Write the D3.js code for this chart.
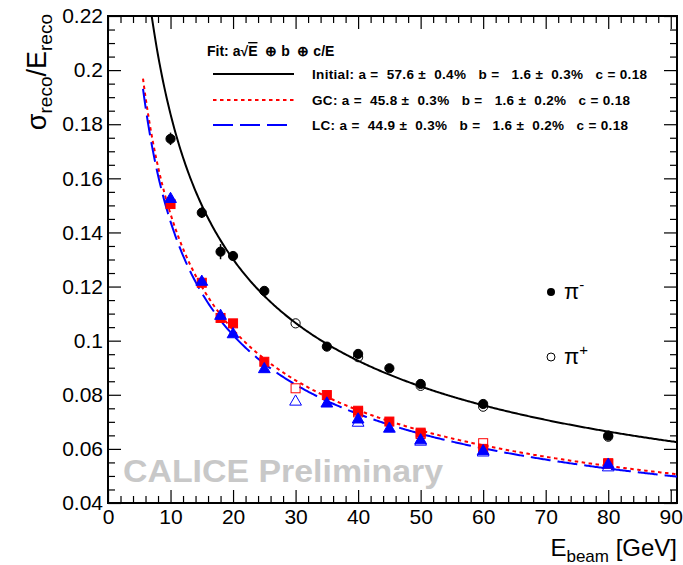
<!DOCTYPE html>
<html>
<head>
<meta charset="utf-8">
<script src="https://cdn.jsdelivr.net/npm/d3@7"></script>
<style>
  body { margin: 0; background: #fff; }
  svg text { font-family: "Liberation Sans", Arial, Helvetica, sans-serif; }
</style>
</head>
<body>
<div id="chart"></div>
<script>
// Data
var energies = [10, 15, 18, 20, 25, 35, 40, 45, 50, 60, 80];
var energiesPlus = [30, 40, 50, 60, 80];

// pi- (filled markers)
var initialMinus = [0.1746, 0.1473, 0.1329, 0.1313, 0.1184, 0.0978, 0.0951, 0.0898, 0.0840, 0.0766, 0.0649];
var initialMinusErr = [0.0023, 0.0020, 0.0028, 0.0008, 0.0006, 0.0005, 0.0005, 0.0005, 0.0005, 0.0005, 0.0005];
var gcMinus = [0.1505, 0.1214, 0.1084, 0.1064, 0.0922, 0.0799, 0.0741, 0.0701, 0.0660, 0.0600, 0.0547];
var lcMinus = [0.1527, 0.1221, 0.1095, 0.1027, 0.0898, 0.0771, 0.0712, 0.0678, 0.0635, 0.0595, 0.0545];
var smallErr = [0.0008, 0.0008, 0.0015, 0.0008, 0.0006, 0.0005, 0.0005, 0.0005, 0.0005, 0.0005, 0.0005];

// pi+ (open markers)
var initialPlus = [0.1064, 0.0939, 0.0833, 0.0756, 0.0645];
var gcPlus = [0.0824, 0.0735, 0.0655, 0.0621, 0.0545];
var lcPlus = [0.0778, 0.0700, 0.0630, 0.0590, 0.0535];

// fit parameters from the legend
var fitNames = ["Initial", "GC", "LC"];
var fitA = [0.576, 0.458, 0.449];
var fitB = [0.016, 0.016, 0.016];
var fitC = [0.18, 0.18, 0.18];
var fitLabels = [
  "Initial: a =  57.6 \u00b1  0.4%   b =   1.6 \u00b1  0.3%   c = 0.18",
  "GC: a =  45.8 \u00b1  0.3%   b =   1.6 \u00b1  0.2%   c = 0.18",
  "LC: a =  44.9 \u00b1  0.3%   b =   1.6 \u00b1  0.2%   c = 0.18"
];
var fitLabelWidths = [335, 318, 316];
var fitColors = ["#000000", "#ff0000", "#0000ff"];
var fitDash = [null, "3.5,3.5", "20,7"];

var xTicks = [0, 10, 20, 30, 40, 50, 60, 70, 80, 90];
var yTicks = [0.04, 0.06, 0.08, 0.1, 0.12, 0.14, 0.16, 0.18, 0.2, 0.22];

// Chart Params
var svgWidth = 683;
var svgHeight = 565;
var margin = { top: 16, right: 6, bottom: 62, left: 108 };
var width = svgWidth - margin.left - margin.right;
var height = svgHeight - margin.top - margin.bottom;

var svg = d3.select("#chart").append("svg")
  .attr("width", svgWidth)
  .attr("height", svgHeight);

var chartGroup = svg.append("g")
  .attr("transform", `translate(${margin.left}, ${margin.top})`);

var x = d3.scaleLinear().domain([0, 91]).range([0, width]);
var y = d3.scaleLinear().domain([0.04, 0.22]).range([height, 0]);

// minor ticks
var xMinor = d3.range(0, 91, 2).filter(v => v % 10 !== 0);
var yMinor = d3.range(0.045, 0.22, 0.005).filter(v => Math.abs(v * 50 - Math.round(v * 50)) > 1e-6);

function drawAxes() {
  var fmt = d => String(+d.toFixed(2));
  // bottom
  chartGroup.append("g").attr("class", "axis").attr("transform", `translate(0, ${height})`)
    .call(d3.axisBottom(x).tickValues(xTicks).tickSize(-13).tickPadding(6).tickFormat(d3.format("d")));
  chartGroup.append("g").attr("class", "axis").attr("transform", `translate(0, ${height})`)
    .call(d3.axisBottom(x).tickValues(xMinor).tickSize(-7).tickFormat(""));
  // top
  chartGroup.append("g").attr("class", "axis")
    .call(d3.axisTop(x).tickValues(xTicks).tickSize(-13).tickFormat(""));
  chartGroup.append("g").attr("class", "axis")
    .call(d3.axisTop(x).tickValues(xMinor).tickSize(-7).tickFormat(""));
  // left
  chartGroup.append("g").attr("class", "axis")
    .call(d3.axisLeft(y).tickValues(yTicks).tickSize(-13).tickPadding(5).tickFormat(fmt));
  chartGroup.append("g").attr("class", "axis")
    .call(d3.axisLeft(y).tickValues(yMinor).tickSize(-7).tickFormat(""));
  // right
  chartGroup.append("g").attr("class", "axis").attr("transform", `translate(${width}, 0)`)
    .call(d3.axisRight(y).tickValues(yTicks).tickSize(-13).tickFormat(""));
  chartGroup.append("g").attr("class", "axis").attr("transform", `translate(${width}, 0)`)
    .call(d3.axisRight(y).tickValues(yMinor).tickSize(-7).tickFormat(""));

  chartGroup.selectAll(".axis path").remove();
  chartGroup.selectAll(".axis line").attr("stroke", "#000").attr("stroke-width", 1.2);
  chartGroup.selectAll(".axis text").attr("fill", "#000").style("font-size", "21px");

  chartGroup.append("rect")
    .attr("width", width).attr("height", height)
    .attr("fill", "none").attr("stroke", "#000").attr("stroke-width", 2);
}

// watermark behind everything
chartGroup.append("text")
  .attr("x", 15).attr("y", 466)
  .attr("textLength", 320).attr("lengthAdjust", "spacingAndGlyphs")
  .style("font-size", "32px").style("font-weight", "bold")
  .attr("fill", "#c8c8c8")
  .text("CALICE Preliminary");

drawAxes();

// titles
var yTitle = svg.append("text")
  .attr("transform", "translate(46, 14) rotate(-90)")
  .attr("text-anchor", "end")
  .style("font-size", "27px");
yTitle.append("tspan").text("\u03c3");
yTitle.append("tspan").attr("dy", 6).style("font-size", "19px").text("reco");
yTitle.append("tspan").attr("dy", -6).text("/E");
yTitle.append("tspan").attr("dy", 6).style("font-size", "19px").text("reco");

var xTitle = svg.append("text")
  .attr("x", 677).attr("y", 556)
  .attr("text-anchor", "end")
  .style("font-size", "24px");
xTitle.append("tspan").text("E");
xTitle.append("tspan").attr("dy", 6).style("font-size", "17px").text("beam");
xTitle.append("tspan").attr("dy", -6).text(" [GeV]");

// fit curves
chartGroup.append("clipPath").attr("id", "plotclip")
  .append("rect").attr("width", width).attr("height", height);

function fitValue(i, e) {
  var s = fitA[i] / Math.sqrt(e), c = fitC[i] / e;
  return Math.sqrt(s * s + fitB[i] * fitB[i] + c * c);
}
var eGrid = d3.range(5.6, 91.01, 0.2);
var line = d3.line().x(d => x(d[0])).y(d => y(d[1]));

fitNames.forEach(function(name, i) {
  chartGroup.append("path")
    .datum(eGrid.map(e => [e, fitValue(i, e)]))
    .attr("clip-path", "url(#plotclip)")
    .attr("d", line)
    .attr("fill", "none")
    .attr("stroke", fitColors[i])
    .attr("stroke-width", 2)
    .attr("stroke-dasharray", fitDash[i]);
});

// markers
function errorBars(xs, ys, errs, color) {
  chartGroup.append("g").selectAll("line").data(xs).enter().append("line")
    .attr("x1", d => x(d)).attr("x2", d => x(d))
    .attr("y1", (d, i) => y(ys[i] - errs[i]))
    .attr("y2", (d, i) => y(ys[i] + errs[i]))
    .attr("stroke", color).attr("stroke-width", 1.5);
}

function circles(xs, ys, filled) {
  chartGroup.append("g").selectAll("circle").data(xs).enter().append("circle")
    .attr("cx", d => x(d)).attr("cy", (d, i) => y(ys[i]))
    .attr("r", 4.6)
    .attr("fill", filled ? "#000" : "none")
    .attr("stroke", "#000").attr("stroke-width", 1);
}

function squares(xs, ys, filled) {
  chartGroup.append("g").selectAll("rect").data(xs).enter().append("rect")
    .attr("x", d => x(d) - 4.5).attr("y", (d, i) => y(ys[i]) - 4.5)
    .attr("width", 9).attr("height", 9)
    .attr("fill", filled ? "#ff0000" : "none")
    .attr("stroke", "#ff0000").attr("stroke-width", 1);
}

var tri = d3.symbol().type(d3.symbolTriangle).size(60);
function triangles(xs, ys, filled) {
  chartGroup.append("g").selectAll("path").data(xs).enter().append("path")
    .attr("transform", (d, i) => `translate(${x(d)}, ${y(ys[i]) + 1})`)
    .attr("d", tri)
    .attr("fill", filled ? "#0000ff" : "none")
    .attr("stroke", "#0000ff").attr("stroke-width", 1);
}

errorBars(energies, initialMinus, initialMinusErr, "#000");
circles(energiesPlus, initialPlus, false);
circles(energies, initialMinus, true);

errorBars(energies, gcMinus, smallErr, "#ff0000");
squares(energiesPlus, gcPlus, false);
squares(energies, gcMinus, true);

errorBars(energies, lcMinus, smallErr, "#0000ff");
triangles(energies, lcMinus, true);
triangles(energiesPlus, lcPlus, false);

// fit legend
var legend = svg.append("g");
var fitTitle = legend.append("text")
  .attr("x", 207).attr("y", 56)
  .style("font-size", "14px").style("font-weight", "bold");
fitTitle.append("tspan").text("Fit: a\u221a");
fitTitle.append("tspan").style("text-decoration", "overline").text("E");
fitTitle.append("tspan").attr("xml:space", "preserve").text("  \u2295 b  \u2295 c/E");

var legendY = [74, 100, 125];
fitNames.forEach(function(name, i) {
  legend.append("line")
    .attr("x1", 213).attr("x2", 294)
    .attr("y1", legendY[i]).attr("y2", legendY[i])
    .attr("stroke", fitColors[i]).attr("stroke-width", 2)
    .attr("stroke-dasharray", fitDash[i]);
  legend.append("text")
    .attr("x", 312).attr("y", legendY[i] + 5)
    .attr("xml:space", "preserve")
    .style("white-space", "pre")
    .attr("textLength", fitLabelWidths[i]).attr("lengthAdjust", "spacing")
    .style("font-size", "13.5px").style("font-weight", "bold")
    .text(fitLabels[i]);
});

// charge legend
legend.append("circle").attr("cx", 551).attr("cy", 292).attr("r", 4).attr("fill", "#000");
legend.append("circle").attr("cx", 551).attr("cy", 357).attr("r", 4)
  .attr("fill", "none").attr("stroke", "#000").attr("stroke-width", 1);
var piMinus = legend.append("text").attr("x", 564).attr("y", 299).style("font-size", "22px");
piMinus.append("tspan").text("\u03c0");
piMinus.append("tspan").attr("dy", -9).style("font-size", "15px").text("-");
var piPlus = legend.append("text").attr("x", 564).attr("y", 364).style("font-size", "22px");
piPlus.append("tspan").text("\u03c0");
piPlus.append("tspan").attr("dy", -9).style("font-size", "15px").text("+");
</script>
</body>
</html>
